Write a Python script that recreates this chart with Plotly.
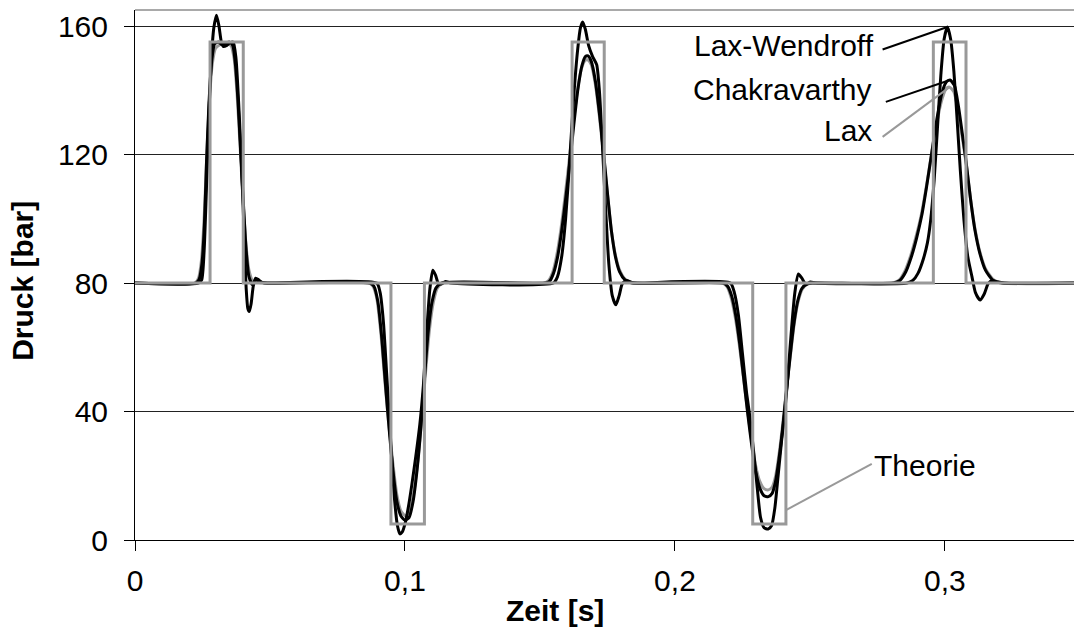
import plotly.graph_objects as go

# ---------------- data ----------------
theory_t = [0, 0.0278, 0.0278, 0.0401, 0.0401, 0.0948, 0.0948, 0.1072, 0.1072,
            0.1619, 0.1619, 0.1738, 0.1738, 0.2288, 0.2288, 0.2411, 0.2411,
            0.2957, 0.2957, 0.3078, 0.3078, 0.35]
theory_p = [80, 80, 155, 155, 80, 80, 5, 5, 80,
            80, 155, 155, 80, 80, 5, 5, 80,
            80, 155, 155, 80, 80]

lw_t = [0, 0.0235, 0.0247, 0.0256, 0.0264, 0.0272, 0.0281, 0.0292, 0.0302, 0.0311, 0.0320,
        0.0328, 0.0340, 0.0352, 0.0364, 0.0374, 0.0384, 0.0394, 0.0404, 0.0412, 0.0418,
        0.0423, 0.0430, 0.0438, 0.0447, 0.0458, 0.0470, 0.0490,
        0.0895, 0.0908, 0.0920, 0.0932, 0.0942, 0.0952, 0.0962, 0.0972, 0.0981, 0.0990,
        0.1000, 0.1012, 0.1025, 0.1040, 0.1055, 0.1068, 0.1080, 0.1092, 0.1103, 0.1113,
        0.1123, 0.1135, 0.1150, 0.1170,
        0.1550, 0.1565, 0.1580, 0.1595, 0.1610, 0.1625, 0.1640, 0.1650, 0.1658, 0.1668,
        0.1680, 0.1695, 0.1710, 0.1720, 0.1730, 0.1742, 0.1755, 0.1768, 0.1781, 0.1793,
        0.1805, 0.1820, 0.1840, 0.1860,
        0.2205, 0.2220, 0.2235, 0.2250, 0.2265, 0.2278, 0.2292, 0.2305, 0.2317, 0.2330,
        0.2345, 0.2358, 0.2370, 0.2382, 0.2395, 0.2408, 0.2420, 0.2432, 0.2444, 0.2457,
        0.2470, 0.2485, 0.2502, 0.2520,
        0.2860, 0.2881, 0.2900, 0.2920, 0.2935, 0.2947, 0.2960, 0.2972, 0.2985, 0.2997,
        0.3009, 0.3021, 0.3033, 0.3045, 0.3057, 0.3070, 0.3085, 0.3100, 0.3113, 0.3130,
        0.3145, 0.3160, 0.3175, 0.3195, 0.3220, 0.35]
lw_p = [80, 80, 81, 90, 108, 128, 147, 159.5, 163.4, 160, 155,
        153.6, 154, 154.8, 155, 150, 136, 118, 96, 78, 72,
        71.1, 73.5, 79, 81.5, 81, 80.2, 80,
        80, 77, 68, 52, 38, 24, 12, 4.5, 1.9, 2.5,
        5, 10, 17, 26, 36, 48, 64, 78, 84, 82.5,
        80, 79.7, 80.5, 80,
        80, 82, 88, 100, 118, 138, 153, 159.5, 161.3, 159,
        154, 150.5, 148, 140, 125, 105, 86, 76, 73.2, 76,
        79.8, 80.8, 80.2, 80,
        80, 77, 70, 58, 46, 38, 27, 16, 7, 3.8,
        3.4, 4.5, 10, 20, 31, 41, 53, 66, 77, 82.8,
        81.5, 79.6, 80.3, 80,
        80, 80.8, 83, 87.5, 92.5, 99.5, 112, 128, 145, 156,
        159.7, 156, 146, 131, 115, 100, 88, 82, 77, 74.7,
        76.5, 79.8, 80.8, 80.3, 80, 80]

ch_t = [0, 0.0225, 0.0237, 0.0248, 0.0257, 0.0265, 0.0274, 0.0284, 0.0295, 0.0310, 0.0322,
        0.0335, 0.0350, 0.0362, 0.0372, 0.0382, 0.0392, 0.0402, 0.0412, 0.0422, 0.0435,
        0.0447, 0.0460, 0.0480,
        0.0870, 0.0885, 0.0900, 0.0915, 0.0930, 0.0942, 0.0955, 0.0970, 0.0985, 0.1000,
        0.1015, 0.1030, 0.1045, 0.1060, 0.1072, 0.1085, 0.1100, 0.1115, 0.1135,
        0.1520, 0.1535, 0.1550, 0.1565, 0.1580, 0.1595, 0.1610, 0.1625, 0.1640, 0.1655,
        0.1668, 0.1678, 0.1690, 0.1705, 0.1720, 0.1735, 0.1750, 0.1765, 0.1780, 0.1795,
        0.1815, 0.1840,
        0.2180, 0.2195, 0.2210, 0.2225, 0.2240, 0.2255, 0.2270, 0.2285, 0.2300, 0.2315,
        0.2330, 0.2346, 0.2360, 0.2372, 0.2385, 0.2398, 0.2410, 0.2425, 0.2440, 0.2455,
        0.2470, 0.2490, 0.2515,
        0.2810, 0.2833, 0.2855, 0.2875, 0.2895, 0.2914, 0.2932, 0.2951, 0.2970, 0.2990,
        0.3005, 0.3019, 0.3035, 0.3050, 0.3065, 0.3078, 0.3095, 0.3111, 0.3130, 0.3150,
        0.3178, 0.3210, 0.35]
ch_p = [80, 80, 81, 86, 98, 118, 136, 149, 154.5, 155, 154.2,
        154.6, 155, 154, 148, 136, 120, 104, 90, 82, 79.5,
        81, 80.5, 80,
        80, 79, 74, 62, 46, 34, 22, 12, 7.5, 6.2,
        7, 12, 22, 36, 50, 64, 74, 78.5, 80,
        80, 80.5, 83, 88, 96, 106, 117, 129, 140, 147.5,
        150.5, 150.7, 149, 143, 133, 121, 108, 96, 88, 83.5,
        81, 80,
        80, 79, 76, 70, 61, 50, 39, 29, 21, 16,
        13.8, 13.5, 14.5, 18, 25, 34, 44, 56, 67, 74.5,
        78.3, 79.7, 80,
        80, 80.8, 83.5, 88, 94, 101, 110, 120.5, 131, 139.5,
        142.6, 143.2, 141.5, 135, 126, 118, 106, 96.5, 89, 84,
        80.8, 80, 80]

lax_t = [0, 0.0222, 0.0235, 0.0246, 0.0256, 0.0265, 0.0275, 0.0286, 0.0298, 0.0315, 0.0335,
         0.0355, 0.0367, 0.0378, 0.0389, 0.0400, 0.0411, 0.0422, 0.0435, 0.0455, 0.0480,
         0.0865, 0.0880, 0.0895, 0.0910, 0.0925, 0.0940, 0.0955, 0.0970, 0.0985, 0.1002,
         0.1018, 0.1033, 0.1048, 0.1062, 0.1076, 0.1090, 0.1105, 0.1120, 0.1140,
         0.1515, 0.1532, 0.1548, 0.1563, 0.1578, 0.1593, 0.1608, 0.1623, 0.1638, 0.1653,
         0.1667, 0.1677, 0.1690, 0.1705, 0.1720, 0.1735, 0.1750, 0.1765, 0.1780, 0.1795,
         0.1815, 0.1845,
         0.2175, 0.2192, 0.2208, 0.2223, 0.2238, 0.2253, 0.2268, 0.2283, 0.2298, 0.2313,
         0.2330, 0.2346, 0.2360, 0.2373, 0.2386, 0.2399, 0.2412, 0.2427, 0.2442, 0.2457,
         0.2472, 0.2492, 0.2520,
         0.2805, 0.2830, 0.2852, 0.2873, 0.2893, 0.2913, 0.2932, 0.2951, 0.2970, 0.2990,
         0.3005, 0.3017, 0.3033, 0.3048, 0.3063, 0.3078, 0.3095, 0.3111, 0.3130, 0.3150,
         0.3180, 0.3215, 0.35]
lax_p = [80, 80, 81.5, 87, 100, 118, 136, 148, 153, 154.2, 154.4,
         154, 150, 139, 123, 106, 92, 84, 80.8, 80.2, 80,
         80, 79.2, 75.5, 65, 50, 36, 24, 14, 9, 7.5,
         9, 15, 25, 38, 52, 65, 74, 78.5, 80,
         80, 80.8, 83.5, 89, 97, 107, 118, 129.5, 139.5, 146.5,
         149.3, 149.5, 148, 142, 132, 120, 107.5, 96, 88.5, 84,
         81.2, 80,
         80, 79, 75.5, 69.5, 61, 51, 41, 31.5, 23.5, 18.5,
         16, 15.6, 16.5, 20, 27, 36, 46, 57, 67.5, 74.5,
         78.2, 79.7, 80,
         80, 80.9, 83.8, 88.5, 94.5, 101.5, 110.5, 120.5, 130, 137.5,
         140.6, 141, 139.5, 134, 126, 117.5, 106, 97, 89.5, 84.5,
         81, 80, 80]

x_ticks = [0, 0.1, 0.2, 0.3]
x_tick_text = ["0", "0,1", "0,2", "0,3"]
y_ticks = [0, 40, 80, 120, 160]

# ---------------- styling ----------------
FONT = "Liberation Sans, Arial, sans-serif"
BLACK = "#000000"
GREY = "#999999"

fig = go.Figure()
fig.add_trace(go.Scatter(x=lax_t, y=lax_p, mode="lines", name="Lax",
                         line=dict(color=GREY, width=3, shape="spline", smoothing=0.6)))
fig.add_trace(go.Scatter(x=ch_t, y=ch_p, mode="lines", name="Chakravarthy",
                         line=dict(color=BLACK, width=3, shape="spline", smoothing=0.6)))
fig.add_trace(go.Scatter(x=lw_t, y=lw_p, mode="lines", name="Lax-Wendroff",
                         line=dict(color=BLACK, width=3, shape="spline", smoothing=0.6)))
fig.add_trace(go.Scatter(x=theory_t, y=theory_p, mode="lines", name="Theorie",
                         line=dict(color=GREY, width=3)))

# peak positions of the third pulse (for the leader lines)
def peak(ts, ps, lo, hi):
    best = None
    for t, p in zip(ts, ps):
        if lo <= t <= hi and (best is None or p > best[1]):
            best = (t, p)
    return best

lw_pk = peak(lw_t, lw_p, 0.28, 0.33)
ch_pk = peak(ch_t, ch_p, 0.28, 0.33)
lax_pk = peak(lax_t, lax_p, 0.28, 0.33)

leaders = [
    ((0.2769, 152.7), lw_pk, BLACK),
    ((0.2781, 136.4), ch_pk, BLACK),
    ((0.2769, 125.5), lax_pk, GREY),
    ((0.2729, 23.7), (theory_t[15], 9.3), GREY),
]
shapes = []
for (t0, p0), (t1, p1), col in leaders:
    shapes.append(dict(type="line", xref="x", yref="y", x0=t0, y0=p0, x1=t1, y1=p1,
                       line=dict(color=col, width=2)))
# top border of the plot area
shapes.append(dict(type="line", xref="paper", yref="paper", x0=0, x1=1, y0=1, y1=1,
                   line=dict(color="#8c8c8c", width=1.5)))

labels = [
    ("Lax-Wendroff", 0.2744, 153.8, "right"),
    ("Chakravarthy", 0.2735, 140.4, "right"),
    ("Lax", 0.2737, 127.6, "right"),
    ("Theorie", 0.2730, 23.3, "left"),
]
annotations = []
for txt, t, p, anc in labels:
    annotations.append(dict(text=txt, x=t, y=p, xref="x", yref="y", showarrow=False,
                            xanchor=anc, yanchor="middle",
                            font=dict(family=FONT, size=30, color=BLACK)))
annotations.append(dict(text="<b>Druck [bar]</b>", xref="paper", yref="paper",
                        x=-0.1193, y=0.489, showarrow=False, textangle=-90,
                        xanchor="center", yanchor="middle",
                        font=dict(family=FONT, size=30, color=BLACK)))
annotations.append(dict(text="<b>Zeit [s]</b>", xref="paper", yref="paper",
                        x=(555 - 135) / 939, y=-(610 - 540) / 530, showarrow=False,
                        xanchor="center", yanchor="middle",
                        font=dict(family=FONT, size=30, color=BLACK)))

fig.update_layout(
    width=1074, height=631,
    margin=dict(l=135, r=0, t=10, b=91),
    paper_bgcolor="white", plot_bgcolor="white",
    showlegend=False,
    font=dict(family=FONT, size=30, color=BLACK),
    shapes=shapes, annotations=annotations,
    xaxis=dict(range=[0, 0.3478], tickvals=x_ticks, ticktext=x_tick_text,
               showgrid=False, zeroline=False, showline=True, linecolor=BLACK, linewidth=1,
               ticks="outside", ticklen=10, tickcolor=BLACK, tickwidth=1,
               ticklabelstandoff=4, tickfont=dict(family=FONT, size=30, color=BLACK)),
    yaxis=dict(range=[0, 165], tickvals=y_ticks,
               showgrid=True, gridcolor="#222222", gridwidth=1, zeroline=False,
               showline=True, linecolor=BLACK, linewidth=1,
               ticks="outside", ticklen=10, tickcolor=BLACK, tickwidth=1,
               ticklabelstandoff=10, tickfont=dict(family=FONT, size=30, color=BLACK)),
)

# remove the browser's default 8px page margin so the figure fills the window exactly
fig.write_html("out.html", config={"displayModeBar": False},
               post_script="document.body.style.margin='0';document.body.style.overflow='hidden';")
